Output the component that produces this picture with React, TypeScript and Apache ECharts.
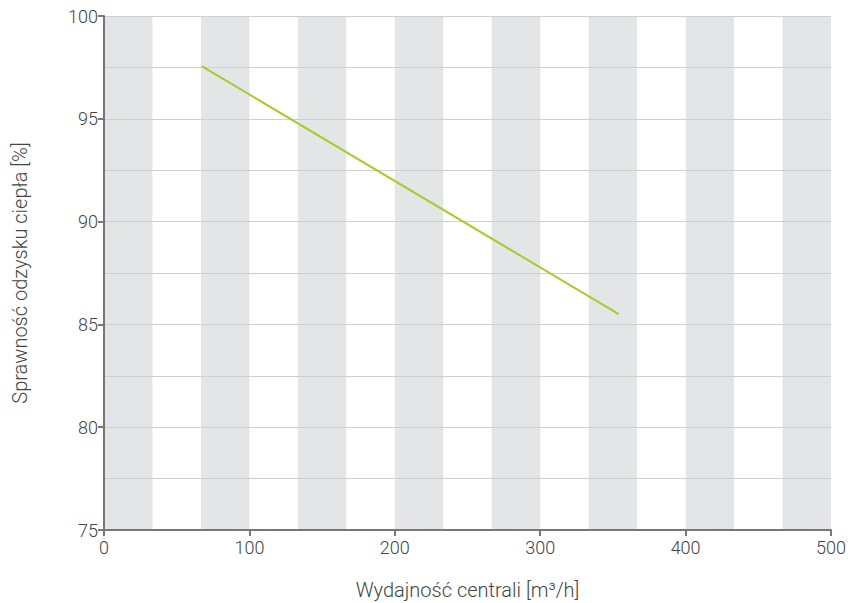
import React, { useEffect, useRef } from "react";
import * as echarts from "echarts";

const flowX: number[] = [67.5, 354];
const efficiencyY: number[] = [97.55, 85.5];
const xTickLabels: string[] = ["0", "100", "200", "300", "400", "500"];
const yTickLabels: string[] = ["75", "80", "85", "90", "95", "100"];

export default function App() {
  const ref = useRef<HTMLDivElement>(null);
  useEffect(() => {
    if (!ref.current) return;
    const chart = echarts.init(ref.current, null, { renderer: "svg" });
    const tickStyle = { color: "#444", fontFamily: "Roboto", fontSize: 18, fontWeight: 300 };
    const nameStyle = { color: "#444", fontFamily: "Roboto", fontSize: 20, fontWeight: 300 };
    chart.setOption({
      animation: false,
      grid: { left: 104, right: 17, top: 16, bottom: 73, containLabel: false, outerBoundsMode: "none" },
      xAxis: [
        {
          type: "value",
          min: 0,
          max: 500,
          interval: 100,
          name: "Wydajność centrali [m³/h]",
          nameLocation: "middle",
          nameGap: 50,
          nameTextStyle: nameStyle,
          axisLine: { show: true, onZero: false, lineStyle: { color: "#777", width: 2 } },
          axisTick: { show: true, length: 6, lineStyle: { color: "#777", width: 2 } },
          axisLabel: { ...tickStyle, margin: 8, formatter: (v: number) => xTickLabels.includes(String(v)) ? String(v) : "" },
          splitLine: { show: false },
          z: 3,
        },
        {
          type: "value",
          min: 0,
          max: 500,
          interval: 100 / 3,
          position: "bottom",
          axisLine: { show: false },
          axisTick: { show: false },
          axisLabel: { show: false },
          splitLine: { show: false },
          splitArea: { show: true, areaStyle: { color: ["#e4e5e7", "rgba(255,255,255,0)"] } },
        },
      ],
      yAxis: {
        type: "value",
        min: 75,
        max: 100,
        interval: 5,
        name: "Sprawność odzysku ciepła [%]",
        nameLocation: "middle",
        nameGap: 74,
        nameRotate: 90,
        nameTextStyle: nameStyle,
        axisLine: { show: true, onZero: false, lineStyle: { color: "#777", width: 2 } },
        axisTick: { show: true, length: 6, lineStyle: { color: "#777", width: 2 } },
        axisLabel: { ...tickStyle, margin: 6, formatter: (v: number) => yTickLabels.includes(String(v)) ? String(v) : "" },
        splitLine: { show: true, lineStyle: { color: "#cfcfcf", width: 1 } },
        minorTick: { show: false, splitNumber: 2 },
        minorSplitLine: { show: true, lineStyle: { color: "#cfcfcf", width: 1 } },
        z: 3,
      },
      series: [
        {
          type: "line",
          xAxisIndex: 0,
          data: flowX.map((x, i) => [x, efficiencyY[i]]),
          showSymbol: false,
          lineStyle: { color: "#a5cd2c", width: 2 },
          z: 4,
        },
      ],
    });
    return () => chart.dispose();
  }, []);
  return <div ref={ref} style={{ width: 848, height: 603, position: "absolute", left: 0, top: 0 }} />;
}
